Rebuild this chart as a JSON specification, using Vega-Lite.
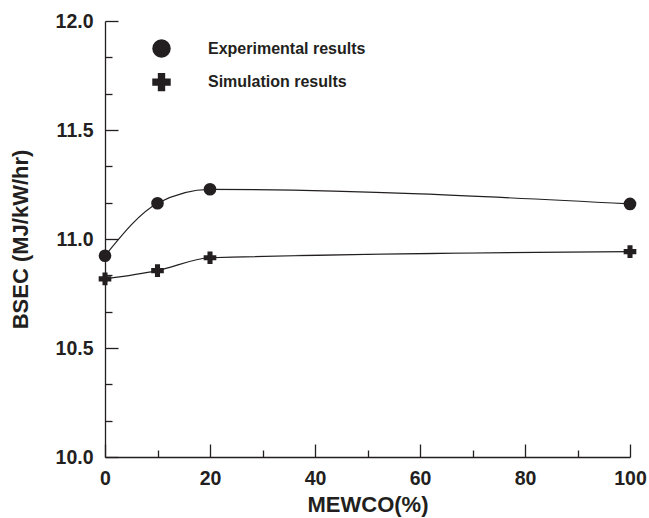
{
  "$schema": "https://vega.github.io/schema/vega-lite/v6.json",
  "width": 525,
  "height": 436,
  "autosize": {"type": "none"},
  "padding": {"left": 105, "top": 21, "right": 19, "bottom": 61},
  "background": "white",
  "config": {
    "view": {"stroke": null},
    "font": "Liberation Sans",
    "axis": {
      "grid": false,
      "labelFlush": false,
      "domainColor": "#231f20",
      "domainWidth": 1.3,
      "tickColor": "#231f20",
      "tickWidth": 1.3,
      "labelFont": "Liberation Sans",
      "labelFontWeight": "bold",
      "labelFontSize": 19.5,
      "labelColor": "#231f20",
      "titleFont": "Liberation Sans",
      "titleFontWeight": "bold",
      "titleFontSize": 22,
      "titleColor": "#231f20"
    },
    "legend": {
      "labelFont": "Liberation Sans",
      "labelFontWeight": "bold",
      "labelFontSize": 16,
      "labelColor": "#231f20"
    }
  },
  "data": {
    "values": [
      {"mewco": 0, "bsec": 10.923, "series": "Experimental results"},
      {"mewco": 10, "bsec": 11.164, "series": "Experimental results"},
      {"mewco": 20, "bsec": 11.228, "series": "Experimental results"},
      {"mewco": 100, "bsec": 11.161, "series": "Experimental results"},
      {"mewco": 0, "bsec": 10.817, "series": "Simulation results"},
      {"mewco": 10, "bsec": 10.855, "series": "Simulation results"},
      {"mewco": 20, "bsec": 10.914, "series": "Simulation results"},
      {"mewco": 100, "bsec": 10.942, "series": "Simulation results"}
    ]
  },
  "layer": [
    {
      "mark": {"type": "line", "interpolate": "monotone", "color": "#231f20", "strokeWidth": 1.2, "clip": false},
      "encoding": {
        "x": {
          "field": "mewco", "type": "quantitative",
          "scale": {"domain": [0, 100], "nice": false},
          "axis": {"orient": "bottom", "values": [10, 30, 50, 70, 90], "labels": false, "domain": false, "tickSize": -7, "title": null}
        },
        "y": {
          "field": "bsec", "type": "quantitative",
          "scale": {"domain": [10, 12], "nice": false, "zero": false},
          "axis": {"orient": "left", "values": [10.1667, 10.3333, 10.6667, 10.8333, 11.1667, 11.3333, 11.6667, 11.8333], "labels": false, "domain": false, "tickSize": -7, "title": null}
        },
        "detail": {"field": "series"}
      }
    },
    {
      "mark": {"type": "point", "filled": true, "opacity": 1, "color": "#231f20", "size": 160, "clip": false},
      "encoding": {
        "x": {
          "field": "mewco", "type": "quantitative",
          "axis": {"orient": "bottom", "values": [0, 20, 40, 60, 80, 100], "tickSize": -13, "labelPadding": 25, "title": "MEWCO(%)", "titlePadding": 7}
        },
        "y": {
          "field": "bsec", "type": "quantitative",
          "axis": {"orient": "left", "values": [10, 10.5, 11, 11.5, 12], "format": ".1f", "tickSize": -13, "labelPadding": 25, "title": "BSEC (MJ/kW/hr)", "titlePadding": 23}
        },
        "shape": {
          "field": "series", "type": "nominal",
          "scale": {"domain": ["Experimental results", "Simulation results"], "range": ["circle", "cross"]},
          "legend": {
            "title": null,
            "orient": "none",
            "legendX": 47,
            "legendY": 18,
            "padding": 0,
            "symbolSize": 340,
            "symbolFillColor": "#231f20",
            "symbolStrokeColor": "#231f20",
            "symbolStrokeWidth": 0,
            "labelOffset": 37,
            "rowPadding": 14.6
          }
        }
      }
    }
  ],
  "resolve": {"axis": {"x": "independent", "y": "independent"}}
}
